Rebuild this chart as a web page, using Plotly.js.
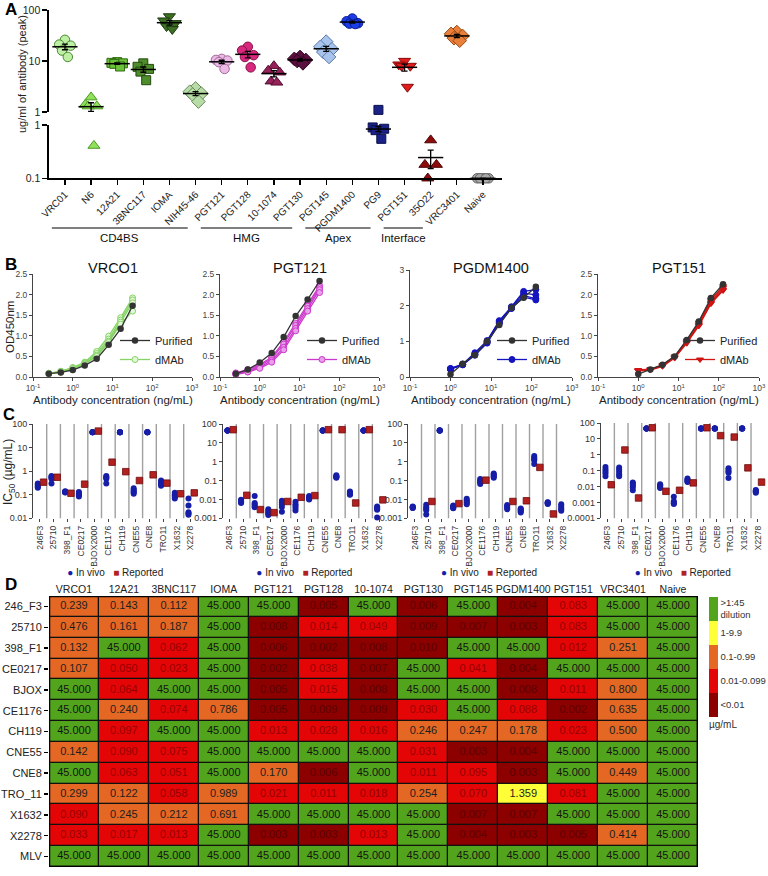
<!DOCTYPE html>
<html><head><meta charset="utf-8">
<script src="https://cdn.plot.ly/plotly-3.0.1.min.js"></script>
<style>html,body{margin:0;padding:0;background:#fff}#chart{width:768px;height:876px}</style>
</head><body><div id="chart"></div>
<script>
// ================= Panel A data (ug/ml peak) =================
const aAntibodies = ['VRC01','N6','12A21','3BNC117','IOMA','NIH45-46','PGT121','PGT128','10-1074','PGT130','PGT145','PGDM1400','PG9','PGT151','35O22','VRC3401','Naive'];
const aVRC01 = [26,21,20,16,12];
const aN6 = [1.95,1.4,1.3,1.3,0.41];
const a12A21 = [9.5,9.2,9.0,8.8,7.8];
const a3BNC117 = [9.0,7.7,7.0,6.2,4.2];
const aIOMA = [75,62,55,48,42];
const aNIH4546 = [2.9,2.5,2.3,2.2,1.6];
const aPGT121 = [11,10.5,10.2,9.5,7.0];
const aPGT128 = [19,16,13,12,7.5];
const a10_1074 = [8.0,6.5,6.0,4.0,3.8];
const aPGT130 = [12,11,10.5,10,9];
const aPGT145 = [24,19,17,15,12];
const aPGDM1400 = [68,60,55,54,53];
const aPG9 = [1.1,0.9,0.85,0.8,0.55];
const aPGT151 = [10,8.5,8,8,3.1];
const a35O22 = [0.52,0.18,0.18,0.1];
const aVRC3401 = [37,34,31,28,25];
const aNaive = [0.1,0.1,0.1,0.1,0.1];
const aGroupNames = ['CD4BS','HMG','Apex','Interface'];
const aGroupFirst = [0,6,10,13];
const aGroupLast = [5,9,12,14];

// ================= Panel B data (OD450nm) =================
const bTitles = ['VRCO1','PGT121','PGDM1400','PGT151'];
const bConcLow = [0.25,0.5,1,2,4,8,16,32];
const bConcHigh = [1,2,4,8,16,32,64,128];
const bTickVals = [0.1,1,10,100,1000];
const bTickText = ['10<sup>-1</sup>','10<sup>0</sup>','10<sup>1</sup>','10<sup>2</sup>','10<sup>3</sup>'];
const bVrc01Purified = [0.08,0.11,0.17,0.28,0.44,0.78,1.17,1.73];
const bVrc01Dmab = [
  [0.09,0.14,0.23,0.36,0.62,0.99,1.44,1.92],
  [0.09,0.13,0.22,0.34,0.57,0.92,1.38,1.87],
  [0.08,0.12,0.21,0.32,0.53,0.87,1.33,1.80],
  [0.08,0.12,0.20,0.31,0.50,0.84,1.28,1.60]];
const bPgt121Purified = [0.08,0.18,0.35,0.58,0.97,1.48,1.88,2.33];
const bPgt121Dmab = [
  [0.10,0.18,0.30,0.48,0.85,1.30,1.78,2.22],
  [0.08,0.15,0.27,0.45,0.80,1.25,1.72,2.17],
  [0.07,0.13,0.24,0.40,0.72,1.18,1.66,2.12],
  [0.06,0.12,0.21,0.36,0.66,1.12,1.60,2.05]];
const bPgdm1400Purified = [0.08,0.37,0.62,1.00,1.46,1.94,2.22,2.53];
const bPgdm1400Dmab = [
  [0.24,0.36,0.68,1.02,1.58,1.97,2.40,2.45],
  [0.23,0.35,0.65,0.99,1.55,1.95,2.35,2.30],
  [0.22,0.35,0.63,0.97,1.52,1.93,2.28,2.20],
  [0.22,0.34,0.61,0.95,1.50,1.92,2.24,2.16]];
const bPgt151Purified = [0.07,0.18,0.30,0.50,0.90,1.35,1.92,2.25];
const bPgt151Dmab = [
  [0.17,0.19,0.29,0.50,0.88,1.32,1.88,2.20],
  [0.16,0.18,0.28,0.48,0.85,1.28,1.84,2.16],
  [0.15,0.18,0.27,0.47,0.83,1.26,1.80,2.12],
  [0.15,0.17,0.26,0.46,0.82,1.24,1.78,2.10]];

// ================= Panel C data (IC50 ug/mL) =================
const cViruses = ['246F3','25710','398_F1','CE0217','BJOX2000','CE1176','CH119','CNE55','CNE8','TRO11','X1632','X2278'];
const cVrc01InVivo = [
  [0.30,0.27,0.24,0.22,0.20],[0.62,0.58,0.52,0.48,0.30],[0.14,0.135,0.13,0.128,0.125],[0.13,0.115,0.105,0.095,0.085],
  [45,45,45,45,45],[0.62,0.57,0.52,0.48,0.30],[45,45,45,45,45],[0.19,0.16,0.14,0.125,0.11],
  [45,45,45,45,45],[0.40,0.35,0.30,0.27,0.24],[0.12,0.10,0.09,0.08,0.07],[0.07,0.035,0.018,0.016,0.014]];
const cVrc01Reported = [0.34,0.55,0.115,0.28,50,2.4,0.95,0.40,0.70,0.31,0.11,0.12];
const cPgt121InVivo = [
  [45,45,45,45,45],[0.0095,0.0085,0.008,0.0072,0.0065],[0.015,0.0065,0.0055,0.0045,0.0038],[0.003,0.0025,0.002,0.0018,0.0015],
  [0.0085,0.007,0.0055,0.004,0.0022],[0.0075,0.0055,0.0045,0.0035,0.0026],[0.015,0.013,0.012,0.011,0.010],[45,45,45,45,45],
  [0.19,0.17,0.16,0.15,0.14],[0.026,0.023,0.021,0.019,0.018],[45,45,45,45,45],[0.0042,0.0036,0.0032,0.0028,0.0011]];
const cPgt121Reported = [50,0.0166,0.0029,0.002,0.0078,0.013,0.016,50,50,0.0065,50,0.0095];
const cPgdm1400InVivo = [
  [0.0042,0.004,0.0038,0.0036,0.0035],[0.0052,0.0038,0.0032,0.0027,0.0016],[45,45,45,45,45],[0.0048,0.0042,0.004,0.0036,0.0034],
  [0.011,0.009,0.0075,0.0065,0.0055],[0.12,0.10,0.09,0.08,0.065],[0.24,0.21,0.18,0.16,0.14],[0.005,0.0045,0.004,0.0035,0.003],
  [0.0033,0.003,0.0027,0.0024,0.002],[2.0,1.6,1.4,1.2,0.75],[0.0072,0.0068,0.0065,0.006,0.0058],[0.0055,0.0045,0.0035,0.003,0.0025]];
const cPgdm1400Reported = [null,0.0078,null,0.006,null,0.105,null,0.0078,0.0085,0.5,0.0017,null];
const cPgt151InVivo = [
  [0.17,0.12,0.09,0.065,0.045],[0.16,0.12,0.085,0.06,0.045],[0.018,0.015,0.012,0.009,0.0058],[45,45,45,45,45],
  [0.014,0.012,0.011,0.009,0.008],[0.0023,0.0012,0.001,0.0009,0.0008],[0.032,0.027,0.024,0.021,0.019],[45,45,45,45,45],
  [45,45,45,45,45],[0.14,0.11,0.09,0.075,0.035],[45,45,45,45,45],[0.006,0.0055,0.005,0.0045,0.004]];
const cPgt151Reported = [0.013,2.0,0.0019,50,0.005,0.0058,0.017,50,16,13,0.15,0.019];
const cSeriesNames = ['In vivo','Reported'];

// ================= Panel D data (IC50 heat map) =================
const dCols = ['VRCO1','12A21','3BNC117','IOMA','PGT121','PGT128','10-1074','PGT130','PGT145','PGDM1400','PGT151','VRC3401','Naive'];
const dRows = ['246_F3','25710','398_F1','CE0217','BJOX','CE1176','CH119','CNE55','CNE8','TRO_11','X1632','X2278','MLV'];
const d246F3 = [0.239,0.143,0.112,45,45,0.005,45,0.006,45,0.004,0.083,45,45];
const d25710 = [0.476,0.161,0.187,45,0.008,0.014,0.049,0.009,0.007,0.003,0.083,45,45];
const d398F1 = [0.132,45,0.062,45,0.006,0.002,0.008,0.0098,45,45,0.012,0.251,45];
const dCE0217 = [0.107,0.050,0.023,45,0.002,0.038,0.007,45,0.041,0.004,45,45,45];
const dBJOX = [45,0.064,45,45,0.005,0.015,0.008,45,45,0.008,0.011,0.800,45];
const dCE1176 = [45,0.240,0.074,0.786,0.005,0.009,0.009,0.030,45,0.088,0.002,0.635,45];
const dCH119 = [45,0.097,45,45,0.013,0.028,0.016,0.246,0.247,0.178,0.023,0.500,45];
const dCNE55 = [0.142,0.090,0.075,45,45,45,45,0.031,0.003,0.004,45,45,45];
const dCNE8 = [45,0.063,0.051,45,0.170,0.006,45,0.011,0.095,0.003,45,0.449,45];
const dTRO11 = [0.299,0.122,0.058,0.989,0.021,0.011,0.018,0.254,0.070,1.359,0.081,45,45];
const dX1632 = [0.090,0.245,0.212,0.691,45,45,45,45,0.007,0.007,45,45,45];
const dX2278 = [0.033,0.017,0.013,45,0.003,0.003,0.013,45,0.004,0.003,0.005,0.414,45];
const dMLV = [45,45,45,45,45,45,45,45,45,45,45,45,45];
const dBinLabels = ['<0.01','0.01-0.099','0.1-0.99','1-9.9','>1:45<br>dilution'];

// ================= helpers / styles =================
const W = 768, H = 876;
const px = x => x / W;
const py = y => 1 - y / H;
const FONT = 'Liberation Sans, Arial, Helvetica, sans-serif';

const traces = [];
const shapes = [];
const annotations = [];
const layout = {
  width: W, height: H, margin: {l:0, r:0, t:0, b:0, autoexpand:false},
  paper_bgcolor: '#fff', plot_bgcolor: 'rgba(0,0,0,0)',
  font: {family: FONT, size: 10, color: '#222'},
  showlegend: true, hovermode: false
};
function note(x, y, text, size, extra) {
  annotations.push(Object.assign({xref:'paper', yref:'paper', x:px(x), y:py(y), text, showarrow:false,
    xanchor:'center', yanchor:'middle', font:{size, color:'#222'}}, extra || {}));
}

// ---------- Panel A ----------
const aData = [aVRC01,aN6,a12A21,a3BNC117,aIOMA,aNIH4546,aPGT121,aPGT128,a10_1074,aPGT130,aPGT145,aPGDM1400,aPG9,aPGT151,a35O22,aVRC3401,aNaive];
const aSymbols = ['circle','triangle-up','square','square','triangle-down','diamond','circle','circle','triangle-up','diamond','diamond','circle','square','triangle-down','triangle-up','diamond','circle'];
const aFill = ['#bdf0a4','#8fe05a','#6cc23a','#4e8c2c','#3c6e24','#b8dca8','#ecb8e4','#d8287e','#96205a','#5c1040','#a8c4ec','#1c3ce8','#1a2288','#e01c1c','#8c0c0c','#e8803c','#a8a8a8'];
const aEdge = ['#4a8a30','#4a9a20','#2e6a10','#234a10','#1e3a10','#6a8a5a','#a06a98','#8a1048','#50102e','#300820','#5a7aa8','#0a1a90','#0a0f48','#8a0a0a','#4a0505','#9a4a14','#606060'];
const aJitter = [0,-0.22,0.22,-0.11,0.11];

aData.forEach((vals, i) => {
  const up = {x:[], y:[]}, lo = {x:[], y:[]};
  vals.forEach((v, k) => {
    const t = v >= 1 ? up : lo;
    t.x.push(i + aJitter[k % aJitter.length]); t.y.push(v);
  });
  const sym = aSymbols[i];
  const sz = sym.startsWith('triangle') ? 10.5 : (sym === 'diamond' ? 10.5 : (sym === 'square' ? 9 : 9.5));
  [[up,'y'],[lo,'y2']].forEach(([t, ya]) => {
    if (!t.x.length) return;
    traces.push({type:'scatter', mode:'markers', x:t.x, y:t.y, xaxis:'x', yaxis:ya, showlegend:false, cliponaxis:false,
      marker:{symbol:sym, size:sz, color:aFill[i], line:{color:aEdge[i], width:1}}});
  });
  const n = vals.length;
  const mean = vals.reduce((a,b)=>a+b,0)/n;
  const sd = Math.sqrt(vals.reduce((a,b)=>a+(b-mean)*(b-mean),0)/(n-1));
  const sem = sd/Math.sqrt(n);
  traces.push({type:'scatter', mode:'markers', x:[i], y:[mean], xaxis:'x', yaxis: mean >= 1 ? 'y' : 'y2', showlegend:false, cliponaxis:false,
    marker:{symbol:'line-ew', size:18, color:'#000', line:{color:'#000', width:1.5}},
    error_y:{type:'data', array:[sem], color:'#000', thickness:1.3, width:3}});
});

layout.xaxis = {domain:[px(49), px(502)], range:[-0.61, 16.73], anchor:'y2',
  tickvals: aAntibodies.map((_,i)=>i), ticktext: aAntibodies, tickangle:-45,
  ticks:'outside', ticklen:5, tickwidth:1.3, tickcolor:'#000', showline:true, linewidth:1.6, linecolor:'#000',
  showgrid:false, zeroline:false, tickfont:{size:10, color:'#222'}};
const aY = {type:'log', anchor:'x', ticks:'outside', ticklen:5, tickwidth:1.3, tickcolor:'#000', showline:true, linewidth:1.6,
  linecolor:'#000', showgrid:false, zeroline:false, tickfont:{size:10.5, color:'#222'}};
layout.yaxis = Object.assign({}, aY, {domain:[py(112), py(10)], range:[0, 2], tickvals:[1,10,100], ticktext:['1','10','100']});
layout.yaxis2 = Object.assign({}, aY, {domain:[py(178.3), py(125)], range:[-1, 0], tickvals:[0.1,1], ticktext:['0.1','1']});

aGroupNames.forEach((g, j) => {
  const x0 = Math.max(aGroupFirst[j] - 0.8, -0.5), x1 = aGroupLast[j] - 0.3;
  shapes.push({type:'line', xref:'x', yref:'paper', x0, x1, y0:py(228), y1:py(228), line:{color:'#000', width:1.2}});
  annotations.push({xref:'x', yref:'paper', x:(x0+x1)/2, y:py(238), text:g, showarrow:false, font:{size:11.5, color:'#111'}, xanchor:'center', yanchor:'middle'});
});
note(22, 74, 'ug/ml of antibody (peak)', 11, {textangle:-90});
note(3, 10, '<b>A</b>', 17, {xanchor:'left', font:{size:17, color:'#000'}});

// ---------- Panel B ----------
const bX = [[33,192],[220,379],[410,572],[598,759]];
const bYTop = [274,274,270,274];
const bYMax = [2.5,2.5,3,2.5];
const bConc = [bConcLow, bConcLow, bConcHigh, bConcHigh];
const bPur = [bVrc01Purified, bPgt121Purified, bPgdm1400Purified, bPgt151Purified];
const bDmab = [bVrc01Dmab, bPgt121Dmab, bPgdm1400Dmab, bPgt151Dmab];
const bLine = ['#86d466','#cc38cc','#1414c0','#d01414'];
const bMarkFill = ['#e2f8d6','#e8a0e8','#1414c0','#d01414'];
const bMarkSym = ['circle','circle','circle','triangle-down'];
const legendNames = ['legend','legend2','legend3','legend4'];

bTitles.forEach((title, i) => {
  const n = 3 + i, xa = 'x'+n, ya = 'y'+n;
  bDmab[i].forEach((rep, r) => {
    traces.push({type:'scatter', mode:'lines+markers', x:bConc[i], y:rep, xaxis:xa, yaxis:ya, name:'dMAb',
      legend:legendNames[i], legendgroup:'dmab'+i, showlegend:r===0, legendrank:2, cliponaxis:false,
      line:{color:bLine[i], width:1.3}, marker:{symbol:bMarkSym[i], size:6, color:bMarkFill[i], line:{color:bLine[i], width:1}}});
  });
  traces.push({type:'scatter', mode:'lines+markers', x:bConc[i], y:bPur[i], xaxis:xa, yaxis:ya, name:'Purified',
    legend:legendNames[i], legendrank:1, cliponaxis:false,
    line:{color:'#333', width:1.3}, marker:{symbol:'circle', size:6.5, color:'#333'}});
  layout['xaxis'+n] = {domain:[px(bX[i][0]), px(bX[i][1])], type:'log', range:[-1,3], anchor:ya,
    tickvals:bTickVals, ticktext:bTickText, ticks:'outside', ticklen:3, tickcolor:'#444', showline:true, linewidth:1, linecolor:'#444',
    showgrid:false, zeroline:false, tickfont:{size:8.5, color:'#444'}};
  layout['yaxis'+n] = {domain:[py(377), py(bYTop[i])], range:[0, bYMax[i]], anchor:xa,
    dtick: bYMax[i] === 3 ? 1 : 0.5, tickformat: bYMax[i] === 3 ? 'd' : '.1f',
    ticks:'outside', ticklen:3, tickcolor:'#444', showline:true, linewidth:1, linecolor:'#444',
    showgrid:false, zeroline:false, tickfont:{size:8.5, color:'#444'}};
  layout[legendNames[i]] = {x:px(bX[i][0]+82), y:py(326), xanchor:'left', yanchor:'top', bgcolor:'rgba(0,0,0,0)',
    font:{size:11, color:'#222'}, tracegroupgap:0, itemwidth:30};
  const cx = (bX[i][0]+bX[i][1])/2;
  note(cx, 268, title, 14.5, {font:{size:14.5, color:'#111'}});
  note(cx, 400, 'Antibody concentration (ng/mL)', 11.5);
});
note(10, 327, 'OD450nm', 11.5, {textangle:-90});
note(3, 264, '<b>B</b>', 17, {xanchor:'left', font:{size:17, color:'#000'}});

// ---------- Panel C ----------
const cX = [[33,197.4],[222.7,386],[408,570],[600.7,764.7]];
const cYTop = [424,424,424,423];
const cLogMin = [-2,-3,-3,-4];
const cInVivo = [cVrc01InVivo, cPgt121InVivo, cPgdm1400InVivo, cPgt151InVivo];
const cReported = [cVrc01Reported, cPgt121Reported, cPgdm1400Reported, cPgt151Reported];
const cDecLabel = {2:'100',1:'10',0:'1','-1':'0.1','-2':'0.01','-3':'0.001','-4':'0.0001'};
const cBlue = 'rgb(22,30,168)', cRed = 'rgb(178,32,32)';
// key text under each panel (series names from cSeriesNames); leading spaces shift it right of centre
const cKey = '\u00a0'.repeat(26) + '<span style="color:' + cBlue + '">\u25CF</span>\u00a0' + cSeriesNames[0] + '\u00a0\u00a0\u00a0' +
             '<span style="color:' + cRed + '">\u25A0</span>\u00a0' + cSeriesNames[1];

cInVivo.forEach((panel, i) => {
  const n = 7 + i, xa = 'x'+n, ya = 'y'+n;
  const ix = [], iy = [];
  panel.forEach((vals, j) => vals.forEach(v => { ix.push(j - 0.15); iy.push(v); }));
  traces.push({type:'scatter', mode:'markers', x:ix, y:iy, xaxis:xa, yaxis:ya, name:cSeriesNames[0], showlegend:false, cliponaxis:false,
    marker:{symbol:'circle', size:6, color:cBlue}});
  const rx = [], ry = [];
  cReported[i].forEach((v, j) => { if (v !== null) { rx.push(j + 0.27); ry.push(v); } });
  traces.push({type:'scatter', mode:'markers', x:rx, y:ry, xaxis:xa, yaxis:ya, name:cSeriesNames[1], showlegend:false, cliponaxis:false,
    marker:{symbol:'square', size:6.5, color:cRed, line:{color:'rgb(110,12,12)', width:0.8}}});
  const tv = [], tt = [];
  for (let d = 2; d >= cLogMin[i]; d--) { tv.push(Math.pow(10, d)); tt.push(cDecLabel[d]); }
  layout['xaxis'+n] = {domain:[px(cX[i][0]), px(cX[i][1])], range:[-0.5, 11.5], anchor:ya,
    tickvals: cViruses.map((_,j)=>j), ticktext: cViruses, tickangle:-90, ticks:'outside', ticklen:3, tickcolor:'#444',
    showline:false, showgrid:false, zeroline:false, tickfont:{size:8.5, color:'#333'},
    title:{text:cKey, font:{size:10, color:'#222'}, standoff:2}};
  layout['yaxis'+n] = {domain:[py(518.3), py(cYTop[i])], type:'log', range:[cLogMin[i], 2], anchor:xa,
    tickvals:tv, ticktext:tt, ticks:'outside', ticklen:3, tickcolor:'#444', showline:true, linewidth:1, linecolor:'#444',
    showgrid:false, zeroline:false, tickfont:{size:9, color:'#333'}};
  for (let j = 0; j < cViruses.length - 1; j++) {
    shapes.push({type:'line', xref:xa, yref:ya+' domain', x0:j+0.5, x1:j+0.5, y0:0, y1:1, layer:'below', line:{color:'#a0a0a0', width:1.4}});
  }
});
note(9, 472, 'IC<sub>50</sub> (µg/mL)', 12, {textangle:-90});
note(1, 414, '<b>C</b>', 16.5, {xanchor:'left', font:{size:16.5, color:'#000'}});

// ---------- Panel D ----------
const dData = [d246F3,d25710,d398F1,dCE0217,dBJOX,dCE1176,dCH119,dCNE55,dCNE8,dTRO11,dX1632,dX2278,dMLV];
const ic50Bin = v => v >= 45 ? 4 : (v >= 1 ? 3 : (v >= 0.1 ? 2 : (v >= 0.01 ? 1 : 0)));
const binColors = ['rgb(140,0,0)','rgb(228,6,6)','rgb(228,104,36)','rgb(255,255,56)','rgb(82,164,28)'];
const binText = ['rgb(92,0,0)','rgb(150,0,0)','#1e1e1e','#1e1e1e','#141414'];
const zBins = dData.map(row => row.map(ic50Bin));
const cs = [];
binColors.forEach((c, k) => { cs.push([k/5, c]); cs.push([(k+1)/5, c]); });
traces.push({type:'heatmap', x:dCols.map((_,j)=>j), y:dRows.map((_,r)=>r), z:zBins, xaxis:'x11', yaxis:'y11',
  zmin:-0.5, zmax:4.5, colorscale:cs, xgap:1.3, ygap:1.3, hoverinfo:'skip',
  colorbar:{x:px(709), xanchor:'left', y:py(597), yanchor:'top', len:136, lenmode:'pixels', thickness:9, thicknessmode:'pixels',
    outlinewidth:0, xpad:0, ypad:0, tickvals:[0,1,2,3,4], ticktext:dBinLabels, ticks:'', ticklabelposition:'outside',
    tickfont:{size:9.5, color:'#333'}, title:{text:'µg/mL', side:'bottom', font:{size:10, color:'#333'}}}});
const tx = [], ty = [], tt = [], tc = [];
dData.forEach((row, r) => row.forEach((v, j) => { tx.push(j); ty.push(r); tt.push(v.toFixed(3)); tc.push(binText[ic50Bin(v)]); }));
traces.push({type:'scatter', mode:'text', x:tx, y:ty, text:tt, xaxis:'x11', yaxis:'y11', showlegend:false, hoverinfo:'skip',
  textfont:{size:11, color:tc}});
layout.xaxis11 = {domain:[px(49), px(698)], range:[-0.5, 12.5], anchor:'y11', side:'top', tickvals:dCols.map((_,j)=>j), ticktext:dCols,
  ticks:'', showline:false, showgrid:false, zeroline:false, tickangle:0, tickfont:{size:10.5, color:'#222'}};
layout.yaxis11 = {domain:[py(867), py(596)], range:[12.5, -0.5], anchor:'x11', tickvals:dRows.map((_,r)=>r), ticktext:dRows,
  ticks:'outside', ticklen:4, tickwidth:1.5, tickcolor:'#000', showline:false, showgrid:false, zeroline:false, tickfont:{size:11, color:'#222'}};
shapes.push({type:'rect', xref:'x11', yref:'y11', x0:-0.5, x1:12.5, y0:-0.5, y1:12.5, fillcolor:'#111', line:{width:0}, layer:'below'});
shapes.push({type:'rect', xref:'x11', yref:'y11', x0:-0.5, x1:12.5, y0:-0.5, y1:12.5, fillcolor:'rgba(0,0,0,0)', line:{color:'#000', width:2.5}});
note(3, 584, '<b>D</b>', 17, {xanchor:'left', font:{size:17, color:'#000'}});

layout.shapes = shapes;
layout.annotations = annotations;
Plotly.newPlot('chart', traces, layout, {staticPlot:true, displayModeBar:false});
</script></body></html>
